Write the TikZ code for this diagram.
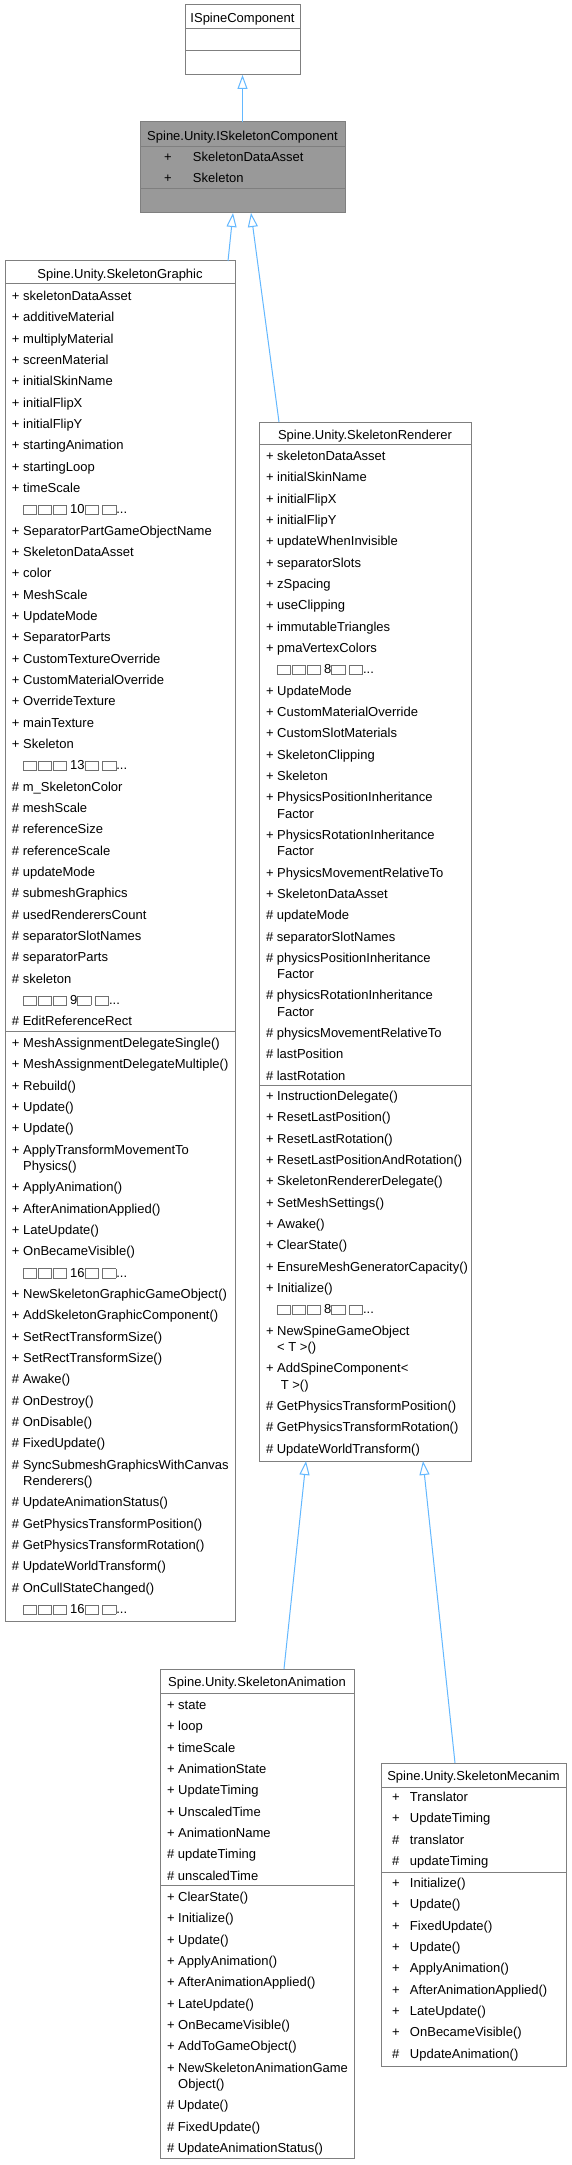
\documentclass[tikz,border=0pt]{standalone}
\usepackage{fontspec}
\setmainfont{Liberation Sans}
\usetikzlibrary{arrows.meta}
\definecolor{bordc}{HTML}{7F7F7F}
\definecolor{inhc}{HTML}{63B8FF}
\definecolor{rootfill}{HTML}{999999}
\definecolor{tofuc}{HTML}{707070}
\newdimen\pxu \pxu=0.75pt
\newcommand\umlfont{\fontsize{9.75pt}{16pt}\selectfont}
\newcommand\tofu{\raisebox{-0.5\pxu}{\textcolor{tofuc}{\fboxsep=0pt\fboxrule=0.75\pxu\fbox{\rule{0pt}{8.5\pxu}\hspace{12.5\pxu}}}}}
\newcommand\tofurow[1]{\hphantom{+ }\tofu\kern.7\pxu\tofu\kern.7\pxu\tofu\ #1\tofu\ \tofu...}
\newcommand\wrapgap{\\[-3.8pt]}
\newcommand\cont{\hphantom{+ }}
\newcommand\mcol[2]{\makebox[18\pxu][l]{#1}#2}
\newcommand\kcol[2]{\makebox[29\pxu][l]{#1}#2}
\begin{document}
\begin{tikzpicture}[x=0.75pt,y=-0.75pt,
  cls/.style={draw=bordc,line width=0.75pt,fill=white,rectangle,inner sep=0pt,outer sep=0pt,anchor=north west},
  txt/.style={inner sep=0pt,outer sep=0pt,anchor=base west,font=\umlfont},
  ttl/.style={inner sep=0pt,outer sep=0pt,anchor=base,font=\umlfont},
  divl/.style={draw=bordc,line width=0.75pt},
  inh/.style={draw=inhc,line width=0.75pt,-{Triangle[open,length=10.5pt,width=7.5pt]}}]
\fill[white] (0,0) rectangle (571,2165);
\useasboundingbox (0,0) rectangle (571,2165);

% ---------- ISpineComponent
\node[cls,minimum width=86.25pt,minimum height=52.5pt] (ispine) at (185,5) {};
\node[ttl] (ispineT) at (242.5,22.5) {ISpineComponent};
\draw[divl] (ispine.west |- 0,29) -- (ispine.east |- 0,29);
\draw[divl] (ispine.west |- 0,51) -- (ispine.east |- 0,51);

% ---------- ISkeletonComponent
\node[cls,fill=rootfill,minimum width=153.75pt,minimum height=68.25pt] (iskel) at (140,122) {};
\node[ttl] (iskelT) at (242.5,140.5) {Spine.Unity.ISkeletonComponent};
\draw[divl] (iskel.west |- 0,147) -- (iskel.east |- 0,147);
\node[txt] (iskelA) at (164,161.5) {\begin{tabular}[t]{@{}l@{}}
\kcol{+}{SkeletonDataAsset}\\
\kcol{+}{Skeleton}
\end{tabular}};
\draw[divl] (iskel.west |- 0,189) -- (iskel.east |- 0,189);

% ---------- SkeletonGraphic
\node[cls,minimum width=172.5pt,minimum height=1020pt] (gra) at (5,261) {};
\node[ttl] (graT) at (120,278.5) {Spine.Unity.SkeletonGraphic};
\draw[divl] (gra.west |- 0,284) -- (gra.east |- 0,284);
\node[txt] (graA) at (12,300.5) {\begin{tabular}[t]{@{}l@{}}
+ skeletonDataAsset\\
+ additiveMaterial\\
+ multiplyMaterial\\
+ screenMaterial\\
+ initialSkinName\\
+ initialFlipX\\
+ initialFlipY\\
+ startingAnimation\\
+ startingLoop\\
+ timeScale\\
\tofurow{10}\\
+ SeparatorPartGameObjectName\\
+ SkeletonDataAsset\\
+ color\\
+ MeshScale\\
+ UpdateMode\\
+ SeparatorParts\\
+ CustomTextureOverride\\
+ CustomMaterialOverride\\
+ OverrideTexture\\
+ mainTexture\\
+ Skeleton\\
\tofurow{13}\\
\# m\_SkeletonColor\\
\# meshScale\\
\# referenceSize\\
\# referenceScale\\
\# updateMode\\
\# submeshGraphics\\
\# usedRenderersCount\\
\# separatorSlotNames\\
\# separatorParts\\
\# skeleton\\
\tofurow{9}\\
\# EditReferenceRect
\end{tabular}};
\draw[divl] (gra.west |- 0,1031) -- (gra.east |- 0,1031);
\node[txt] (graM) at (12,1047.5) {\begin{tabular}[t]{@{}l@{}}
+ MeshAssignmentDelegateSingle()\\
+ MeshAssignmentDelegateMultiple()\\
+ Rebuild()\\
+ Update()\\
+ Update()\\
+ ApplyTransformMovementTo\wrapgap
\cont Physics()\\
+ ApplyAnimation()\\
+ AfterAnimationApplied()\\
+ LateUpdate()\\
+ OnBecameVisible()\\
\tofurow{16}\\
+ NewSkeletonGraphicGameObject()\\
+ AddSkeletonGraphicComponent()\\
+ SetRectTransformSize()\\
+ SetRectTransformSize()\\
\# Awake()\\
\# OnDestroy()\\
\# OnDisable()\\
\# FixedUpdate()\\
\# SyncSubmeshGraphicsWithCanvas\wrapgap
\cont Renderers()\\
\# UpdateAnimationStatus()\\
\# GetPhysicsTransformPosition()\\
\# GetPhysicsTransformRotation()\\
\# UpdateWorldTransform()\\
\# OnCullStateChanged()\\
\tofurow{16}
\end{tabular}};

% ---------- SkeletonRenderer
\node[cls,minimum width=159pt,minimum height=779.25pt] (ren) at (259,422) {};
\node[ttl] (renT) at (365,439.5) {Spine.Unity.SkeletonRenderer};
\draw[divl] (ren.west |- 0,444) -- (ren.east |- 0,444);
\node[txt] (renA) at (266,460.5) {\begin{tabular}[t]{@{}l@{}}
+ skeletonDataAsset\\
+ initialSkinName\\
+ initialFlipX\\
+ initialFlipY\\
+ updateWhenInvisible\\
+ separatorSlots\\
+ zSpacing\\
+ useClipping\\
+ immutableTriangles\\
+ pmaVertexColors\\
\tofurow{8}\\
+ UpdateMode\\
+ CustomMaterialOverride\\
+ CustomSlotMaterials\\
+ SkeletonClipping\\
+ Skeleton\\
+ PhysicsPositionInheritance\wrapgap
\cont Factor\\
+ PhysicsRotationInheritance\wrapgap
\cont Factor\\
+ PhysicsMovementRelativeTo\\
+ SkeletonDataAsset\\
\# updateMode\\
\# separatorSlotNames\\
\# physicsPositionInheritance\wrapgap
\cont Factor\\
\# physicsRotationInheritance\wrapgap
\cont Factor\\
\# physicsMovementRelativeTo\\
\# lastPosition\\
\# lastRotation
\end{tabular}};
\draw[divl] (ren.west |- 0,1085) -- (ren.east |- 0,1085);
\node[txt] (renM) at (266,1100.5) {\begin{tabular}[t]{@{}l@{}}
+ InstructionDelegate()\\
+ ResetLastPosition()\\
+ ResetLastRotation()\\
+ ResetLastPositionAndRotation()\\
+ SkeletonRendererDelegate()\\
+ SetMeshSettings()\\
+ Awake()\\
+ ClearState()\\
+ EnsureMeshGeneratorCapacity()\\
+ Initialize()\\
\tofurow{8}\\
+ NewSpineGameObject\wrapgap
\cont < T >()\\
+ AddSpineComponent<\wrapgap
\cont \ T >()\\
\# GetPhysicsTransformPosition()\\
\# GetPhysicsTransformRotation()\\
\# UpdateWorldTransform()
\end{tabular}};

% ---------- SkeletonAnimation
\node[cls,minimum width=145.5pt,minimum height=366.75pt] (ani) at (160,1669) {};
\node[ttl] (aniT) at (257,1686.5) {Spine.Unity.SkeletonAnimation};
\draw[divl] (ani.west |- 0,1693) -- (ani.east |- 0,1693);
\node[txt] (aniA) at (167,1709.5) {\begin{tabular}[t]{@{}l@{}}
+ state\\
+ loop\\
+ timeScale\\
+ AnimationState\\
+ UpdateTiming\\
+ UnscaledTime\\
+ AnimationName\\
\# updateTiming\\
\# unscaledTime
\end{tabular}};
\draw[divl] (ani.west |- 0,1885) -- (ani.east |- 0,1885);
\node[txt] (aniM) at (167,1901.5) {\begin{tabular}[t]{@{}l@{}}
+ ClearState()\\
+ Initialize()\\
+ Update()\\
+ ApplyAnimation()\\
+ AfterAnimationApplied()\\
+ LateUpdate()\\
+ OnBecameVisible()\\
+ AddToGameObject()\\
+ NewSkeletonAnimationGame\wrapgap
\cont Object()\\
\# Update()\\
\# FixedUpdate()\\
\# UpdateAnimationStatus()
\end{tabular}};

% ---------- SkeletonMecanim
\node[cls,minimum width=138.75pt,minimum height=227.25pt] (mec) at (381,1763) {};
\node[ttl] (mecT) at (473.5,1780.5) {Spine.Unity.SkeletonMecanim};
\draw[divl] (mec.west |- 0,1787) -- (mec.east |- 0,1787);
\node[txt] (mecA) at (392,1801.5) {\begin{tabular}[t]{@{}l@{}}
\mcol{+}{Translator}\\
\mcol{+}{UpdateTiming}\\
\mcol{\#}{translator}\\
\mcol{\#}{updateTiming}
\end{tabular}};
\draw[divl] (mec.west |- 0,1872) -- (mec.east |- 0,1872);
\node[txt] (mecM) at (392,1887.5) {\begin{tabular}[t]{@{}l@{}}
\mcol{+}{Initialize()}\\
\mcol{+}{Update()}\\
\mcol{+}{FixedUpdate()}\\
\mcol{+}{Update()}\\
\mcol{+}{ApplyAnimation()}\\
\mcol{+}{AfterAnimationApplied()}\\
\mcol{+}{LateUpdate()}\\
\mcol{+}{OnBecameVisible()}\\
\mcol{\#}{UpdateAnimation()}
\end{tabular}};

% ---------- inheritance connectors
\draw[inh] (iskel.north) -- (ispine.south);
\draw[inh] ([xshift=-5.25pt]gra.north east) -- ([xshift=-7.125pt]iskel.south);
\draw[inh] ([xshift=15pt]ren.north west) -- ([xshift=6.375pt]iskel.south);
\draw[inh] ([xshift=93pt]ani.north west) -- ([xshift=35.25pt]ren.south west);
\draw[inh] ([xshift=55.5pt]mec.north west) -- ([xshift=123pt]ren.south west);
\end{tikzpicture}
\end{document}
